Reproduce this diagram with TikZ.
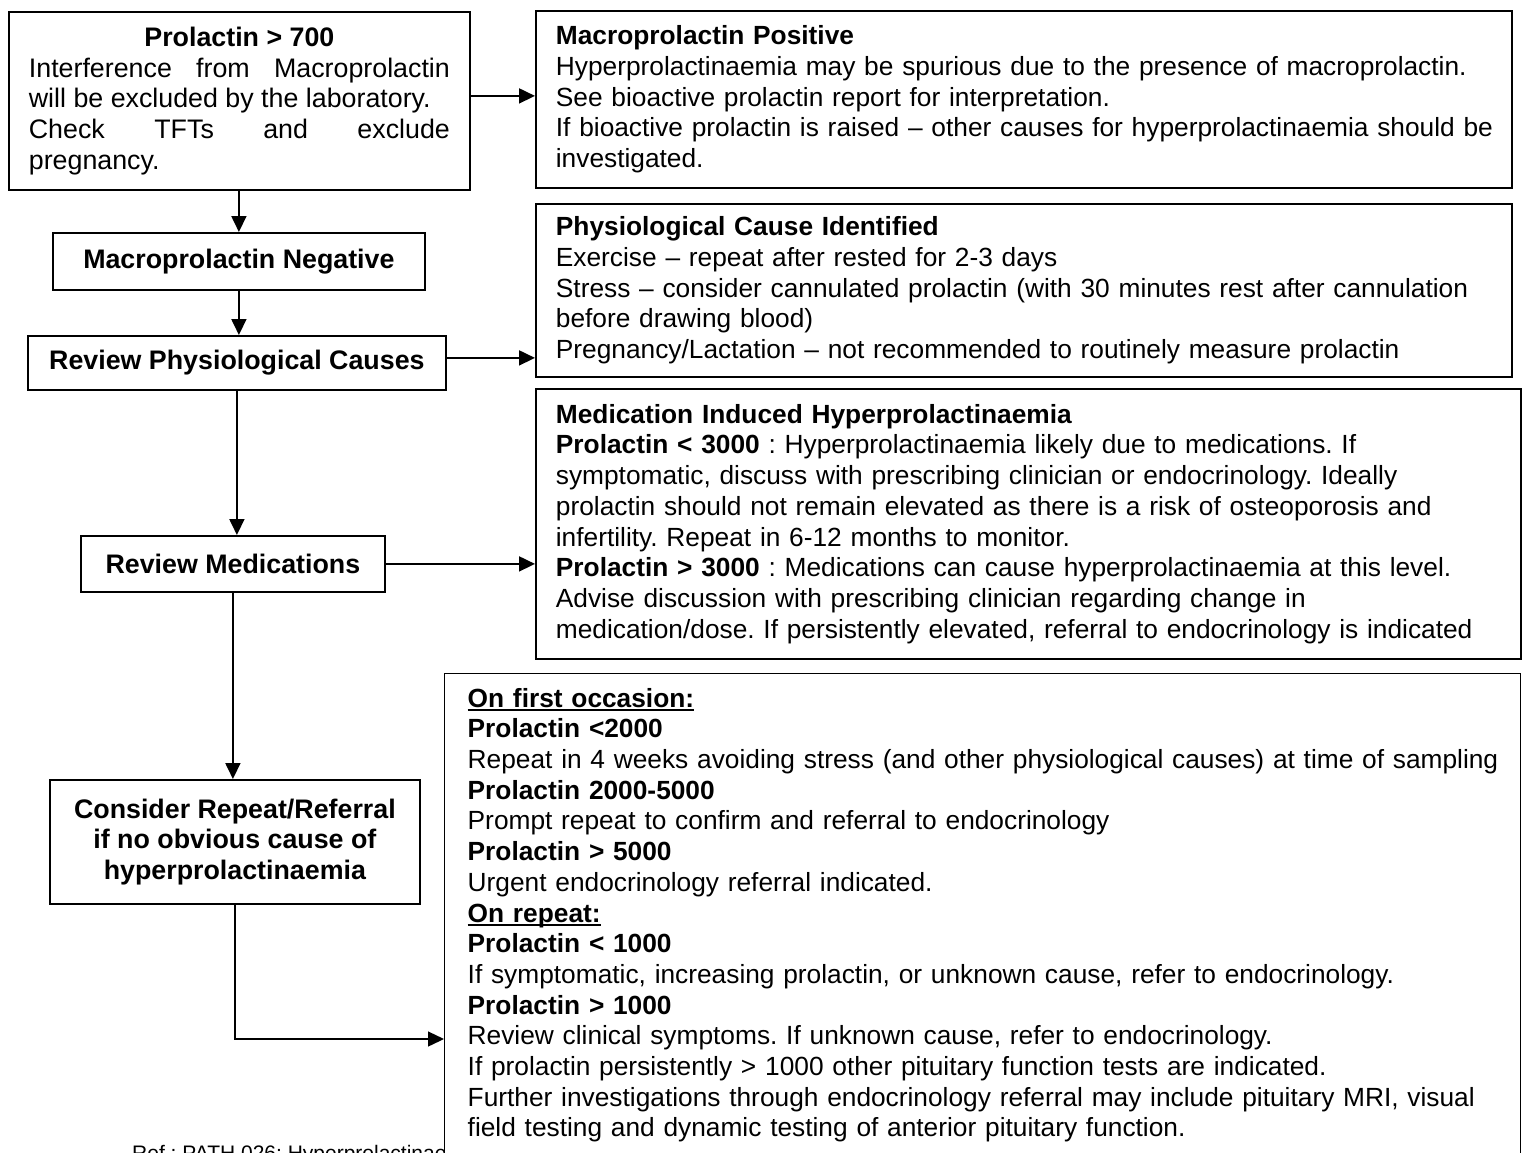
\documentclass[tikz,border=0pt]{standalone}
\usepackage{fontspec}
\setmainfont{Liberation Sans}
\usetikzlibrary{arrows.meta}
\frenchspacing
\hyphenpenalty=10000
\exhyphenpenalty=10000

\newcommand{\ulhead}[1]{\leavevmode\begingroup\setbox0=\hbox{\bfseries #1}\rlap{\rule[-3.5pt]{\wd0}{2pt}}\box0\endgroup}
\newcommand{\looseline}{\rightskip=0pt plus 1fil minus 40pt\relax}

\begin{document}
\begin{tikzpicture}[x=1pt, y=-1pt, >={Triangle[length=16pt, width=15pt]},
    every node/.style={font=\fontsize{26.3}{30.7}\selectfont},
    box/.style={rectangle, draw=black, line width=1.8pt, anchor=north west, inner ysep=0pt},
    textbox/.style={box, inner xsep=20pt, align=left},
    stepbox/.style={box, inner xsep=0pt, align=center, font=\fontsize{26.8}{30.7}\selectfont\bfseries},
    link/.style={->, line width=1.8pt},
]
\useasboundingbox (0,0) rectangle (1522,1152);

% Reference line (partly hidden by the advice box)
\node[anchor=base west, inner sep=0pt, font=\fontsize{21}{24}\selectfont] (ref) at (132,1160) {Ref : PATH 026: Hyperprolactinaemia};

% Left column
\node[textbox, align=justify, text width=421pt, minimum height=178pt, font=\fontsize{26.8}{30.7}\selectfont] (prl) at (8,11)
    {{\centering\bfseries Prolactin > 700\par}Interference from Macroprolactin\linebreak will be excluded by the laboratory.\newline Check TFTs and exclude\linebreak pregnancy.};
\node[stepbox, minimum width=372pt, minimum height=57pt] (mneg) at (52,232) {Macroprolactin Negative};
\node[stepbox, minimum width=418pt, minimum height=54pt] (rphys) at (27,335) {Review Physiological Causes};
\node[stepbox, minimum width=304pt, minimum height=56pt] (rmeds) at (80,535) {Review Medications};
\node[stepbox, minimum width=370pt, minimum height=124pt] (rref) at (49,779)
    {Consider Repeat/Referral\\if no obvious cause of\\hyperprolactinaemia};

% Right column
\node[textbox, text width=936pt, minimum height=177pt] (mpos) at (535,10)
    {\looseline\textbf{Macroprolactin Positive}\\
     Hyperprolactinaemia may be spurious due to the presence of macroprolactin.\\
     See bioactive prolactin report for interpretation.\\
     If bioactive prolactin is raised – other causes for hyperprolactinaemia should be\\
     investigated.};
\node[textbox, text width=936pt, minimum height=173pt] (phys) at (535,203)
    {\looseline\textbf{Physiological Cause Identified}\\
     Exercise – repeat after rested for 2-3 days\\
     Stress – consider cannulated prolactin (with 30 minutes rest after cannulation\\
     before drawing blood)\\
     Pregnancy/Lactation – not recommended to routinely measure prolactin};
\node[textbox, text width=945pt, minimum height=270pt] (meds) at (535,388)
    {\looseline\textbf{Medication Induced Hyperprolactinaemia}\\
     \textbf{Prolactin < 3000} : Hyperprolactinaemia likely due to medications. If\\
     symptomatic, discuss with prescribing clinician or endocrinology. Ideally\\
     prolactin should not remain elevated as there is a risk of osteoporosis and\\
     infertility. Repeat in 6-12 months to monitor.\\
     \textbf{Prolactin > 3000} : Medications can cause hyperprolactinaemia at this level.\\
     Advise discussion with prescribing clinician regarding change in\\
     medication/dose. If persistently elevated, referral to endocrinology is indicated};
\node[textbox, fill=white, line width=1.4pt, inner xsep=23pt, text width=1030pt, minimum height=483pt] (advice) at (444,673)
    {\looseline\ulhead{On first occasion:}\\
     \textbf{Prolactin <2000}\\
     Repeat in 4 weeks avoiding stress (and other physiological causes) at time of sampling\\
     \textbf{Prolactin 2000-5000}\\
     Prompt repeat to confirm and referral to endocrinology\\
     \textbf{Prolactin > 5000}\\
     Urgent endocrinology referral indicated.\\
     \ulhead{On repeat:}\\
     \textbf{Prolactin < 1000}\\
     If symptomatic, increasing prolactin, or unknown cause, refer to endocrinology.\\
     \textbf{Prolactin > 1000}\\
     Review clinical symptoms. If unknown cause, refer to endocrinology.\\
     If prolactin persistently > 1000 other pituitary function tests are indicated.\\
     Further investigations through endocrinology referral may include pituitary MRI, visual\\
     field testing and dynamic testing of anterior pituitary function.};

% Edges
\draw[link] (mneg.north |- prl.south) -- (mneg.north);
\draw[link] (mneg.south) -- (mneg.south |- rphys.north);
\draw[link] (rphys.south) -- (rphys.south |- rmeds.north);
\draw[link] (rmeds.south) -- (rmeds.south |- rref.north);
\draw[link, line width=1.3pt] (rref.south) |- (advice.west |- 0,1039);

\draw[link] ([yshift=5pt]prl.east) -- ([yshift=5pt]prl.east -| mpos.west);
\draw[link] ([yshift=5pt]rphys.east) -- ([yshift=5pt]rphys.east -| phys.west);
\draw[link] (rmeds.east) -- (rmeds.east -| meds.west);

\end{tikzpicture}
\end{document}
